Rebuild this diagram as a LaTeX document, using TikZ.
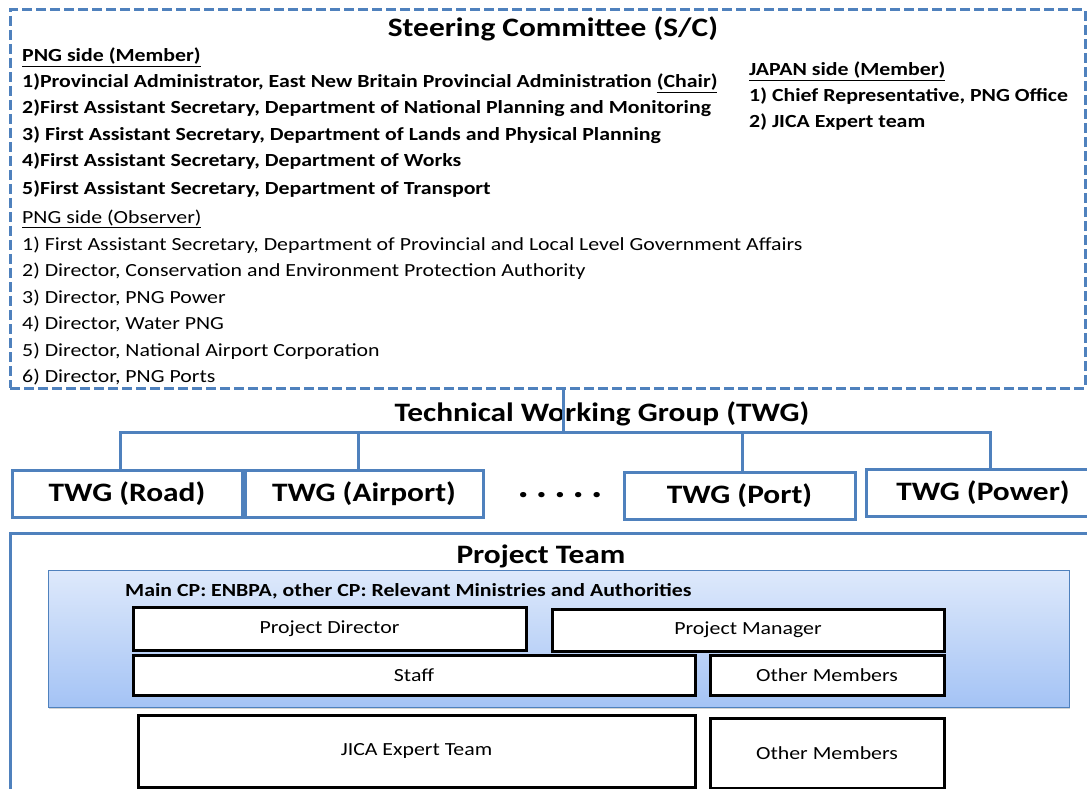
\documentclass[tikz,border=0pt]{standalone}
\usepackage{fontspec}
\setmainfont{Carlito}[FakeStretch=1.18]
\usetikzlibrary{positioning,shadows}
\definecolor{twgblue}{RGB}{79,129,189}
\definecolor{cptop}{RGB}{222,233,251}
\definecolor{cpbottom}{RGB}{164,195,245}

\tikzset{
  head/.style={anchor=base, inner sep=0pt, font=\fontsize{26.6}{27}\selectfont\bfseries},
  item/.style={anchor=base west, inner sep=0pt, font=\fontsize{18.5}{18.5}\selectfont},
  bitem/.style={item, font=\fontsize{18.5}{18.5}\selectfont\bfseries},
  twgbox/.style={draw=twgblue, line width=3pt, fill=white, minimum width=#1,
    minimum height=47pt, inner sep=0pt, font=\fontsize{26.6}{27}\selectfont\bfseries},
  rolebox/.style={draw=black, line width=3pt, fill=white, inner sep=0pt,
    font=\fontsize{18.5}{18.5}\selectfont},
  link/.style={draw=twgblue, line width=3pt},
}

\begin{document}
\begin{tikzpicture}[x=1pt, y=-1pt]
\useasboundingbox (0,0) rectangle (1087,789);
\clip (0,0) rectangle (1087,789);

% ---------------- Steering Committee ----------------
\node (sc) [draw=twgblue, line width=3pt, dash pattern=on 10pt off 4pt,
  minimum width=1075pt, minimum height=378pt, inner sep=0pt] at (547.5,199) {};
\node (sctitle) [head] at (553,37) {Steering Committee (S/C)};

\node (pngm) [bitem] at (22,62) {\underline{PNG side (Member)}};
\node (m1) [bitem] at (22,88) {1)Provincial Administrator, East New Britain Provincial Administration \underline{(Chair)}};
\node (m2) [bitem] at (22,114) {2)First Assistant Secretary, Department of National Planning and Monitoring};
\node (m3) [bitem] at (22,141) {3) First Assistant Secretary, Department of Lands and Physical Planning};
\node (m4) [bitem] at (22,167) {4)First Assistant Secretary, Department of Works};
\node (m5) [bitem] at (22,194) {5)First Assistant Secretary, Department of Transport};

\node (pngo) [item] at (22,223) {\underline{PNG side (Observer)}};
\node (o1) [item] at (22,250) {1) First Assistant Secretary, Department of Provincial and Local Level Government Affairs};
\node (o2) [item] at (22,276) {2) Director, Conservation and Environment Protection Authority};
\node (o3) [item] at (22,303) {3) Director, PNG Power};
\node (o4) [item] at (22,329) {4) Director, Water PNG};
\node (o5) [item] at (22,356) {5) Director, National Airport Corporation};
\node (o6) [item] at (22,382) {6) Director, PNG Ports};

\node (jpm) [bitem] at (749,76) {\underline{JAPAN side (Member)}};
\node (j1) [bitem] at (749,102) {1) Chief Representative, PNG Office};
\node (j2) [bitem] at (749,128) {2) JICA Expert team};

% ---------------- Technical Working Group ----------------
\node (twg) [head] at (602,421) {Technical Working Group (TWG)};
\coordinate (bus) at (563,432);

\node (road) [twgbox=230pt] at (127,494) {TWG (Road)};
\node (airport) [twgbox=238pt] at (364,494) {TWG (Airport)};
\node (port) [twgbox=231pt] at (739.5,496) {TWG (Port)};
\node (power) [twgbox=234pt] at (983,493) {TWG (Power)};
\node (dots) [head, font=\fontsize{36}{36}\selectfont\bfseries] at (560,497)
  {.\hspace{7pt}.\hspace{7pt}.\hspace{7pt}.\hspace{7pt}.};

\draw[link] (sc.south -| bus) -- (bus);
\draw[link] ([xshift=-7pt]road.north) |- (bus) -| ([xshift=7pt]power.north);
\draw[link] ([xshift=-6pt]airport.north) -- ([xshift=-6pt]airport.north |- bus);
\draw[link] ([xshift=2.5pt]port.north) -- ([xshift=2.5pt]port.north |- bus);

% ---------------- Project Team ----------------
\draw[twgblue, line width=3pt] (10,533) rectangle (1100,800);
\node (pt) [head] at (541,563) {Project Team};

\node (cp) [draw=twgblue, line width=0.8pt, top color=cptop, bottom color=cpbottom,
  drop shadow={shadow xshift=1pt, shadow yshift=-2pt, opacity=0.35},
  minimum width=1021pt, minimum height=137pt, inner sep=0pt] at (558.5,638.5) {};
\node (cplabel) [bitem] at (125,596) {Main CP: ENBPA, other CP: Relevant Ministries and Authorities};

\node (pd) [rolebox, minimum width=393pt, minimum height=43pt] at (329.5,628.5) {Project Director};
\node (pm) [rolebox, minimum width=392pt, minimum height=42pt] at (748,630) {Project Manager};
\node (staff) [rolebox, minimum width=562pt, minimum height=40pt] at (414,675) {Staff};
\node (om) [rolebox, minimum width=234pt, minimum height=40pt] at (827,675) {Other Members};
\node (jica) [rolebox, minimum width=557pt, minimum height=72pt] at (416.5,751) {JICA Expert Team};
\node (omj) [rolebox, minimum width=234pt, minimum height=70pt] at (827,753) {Other Members};

\end{tikzpicture}
\end{document}
